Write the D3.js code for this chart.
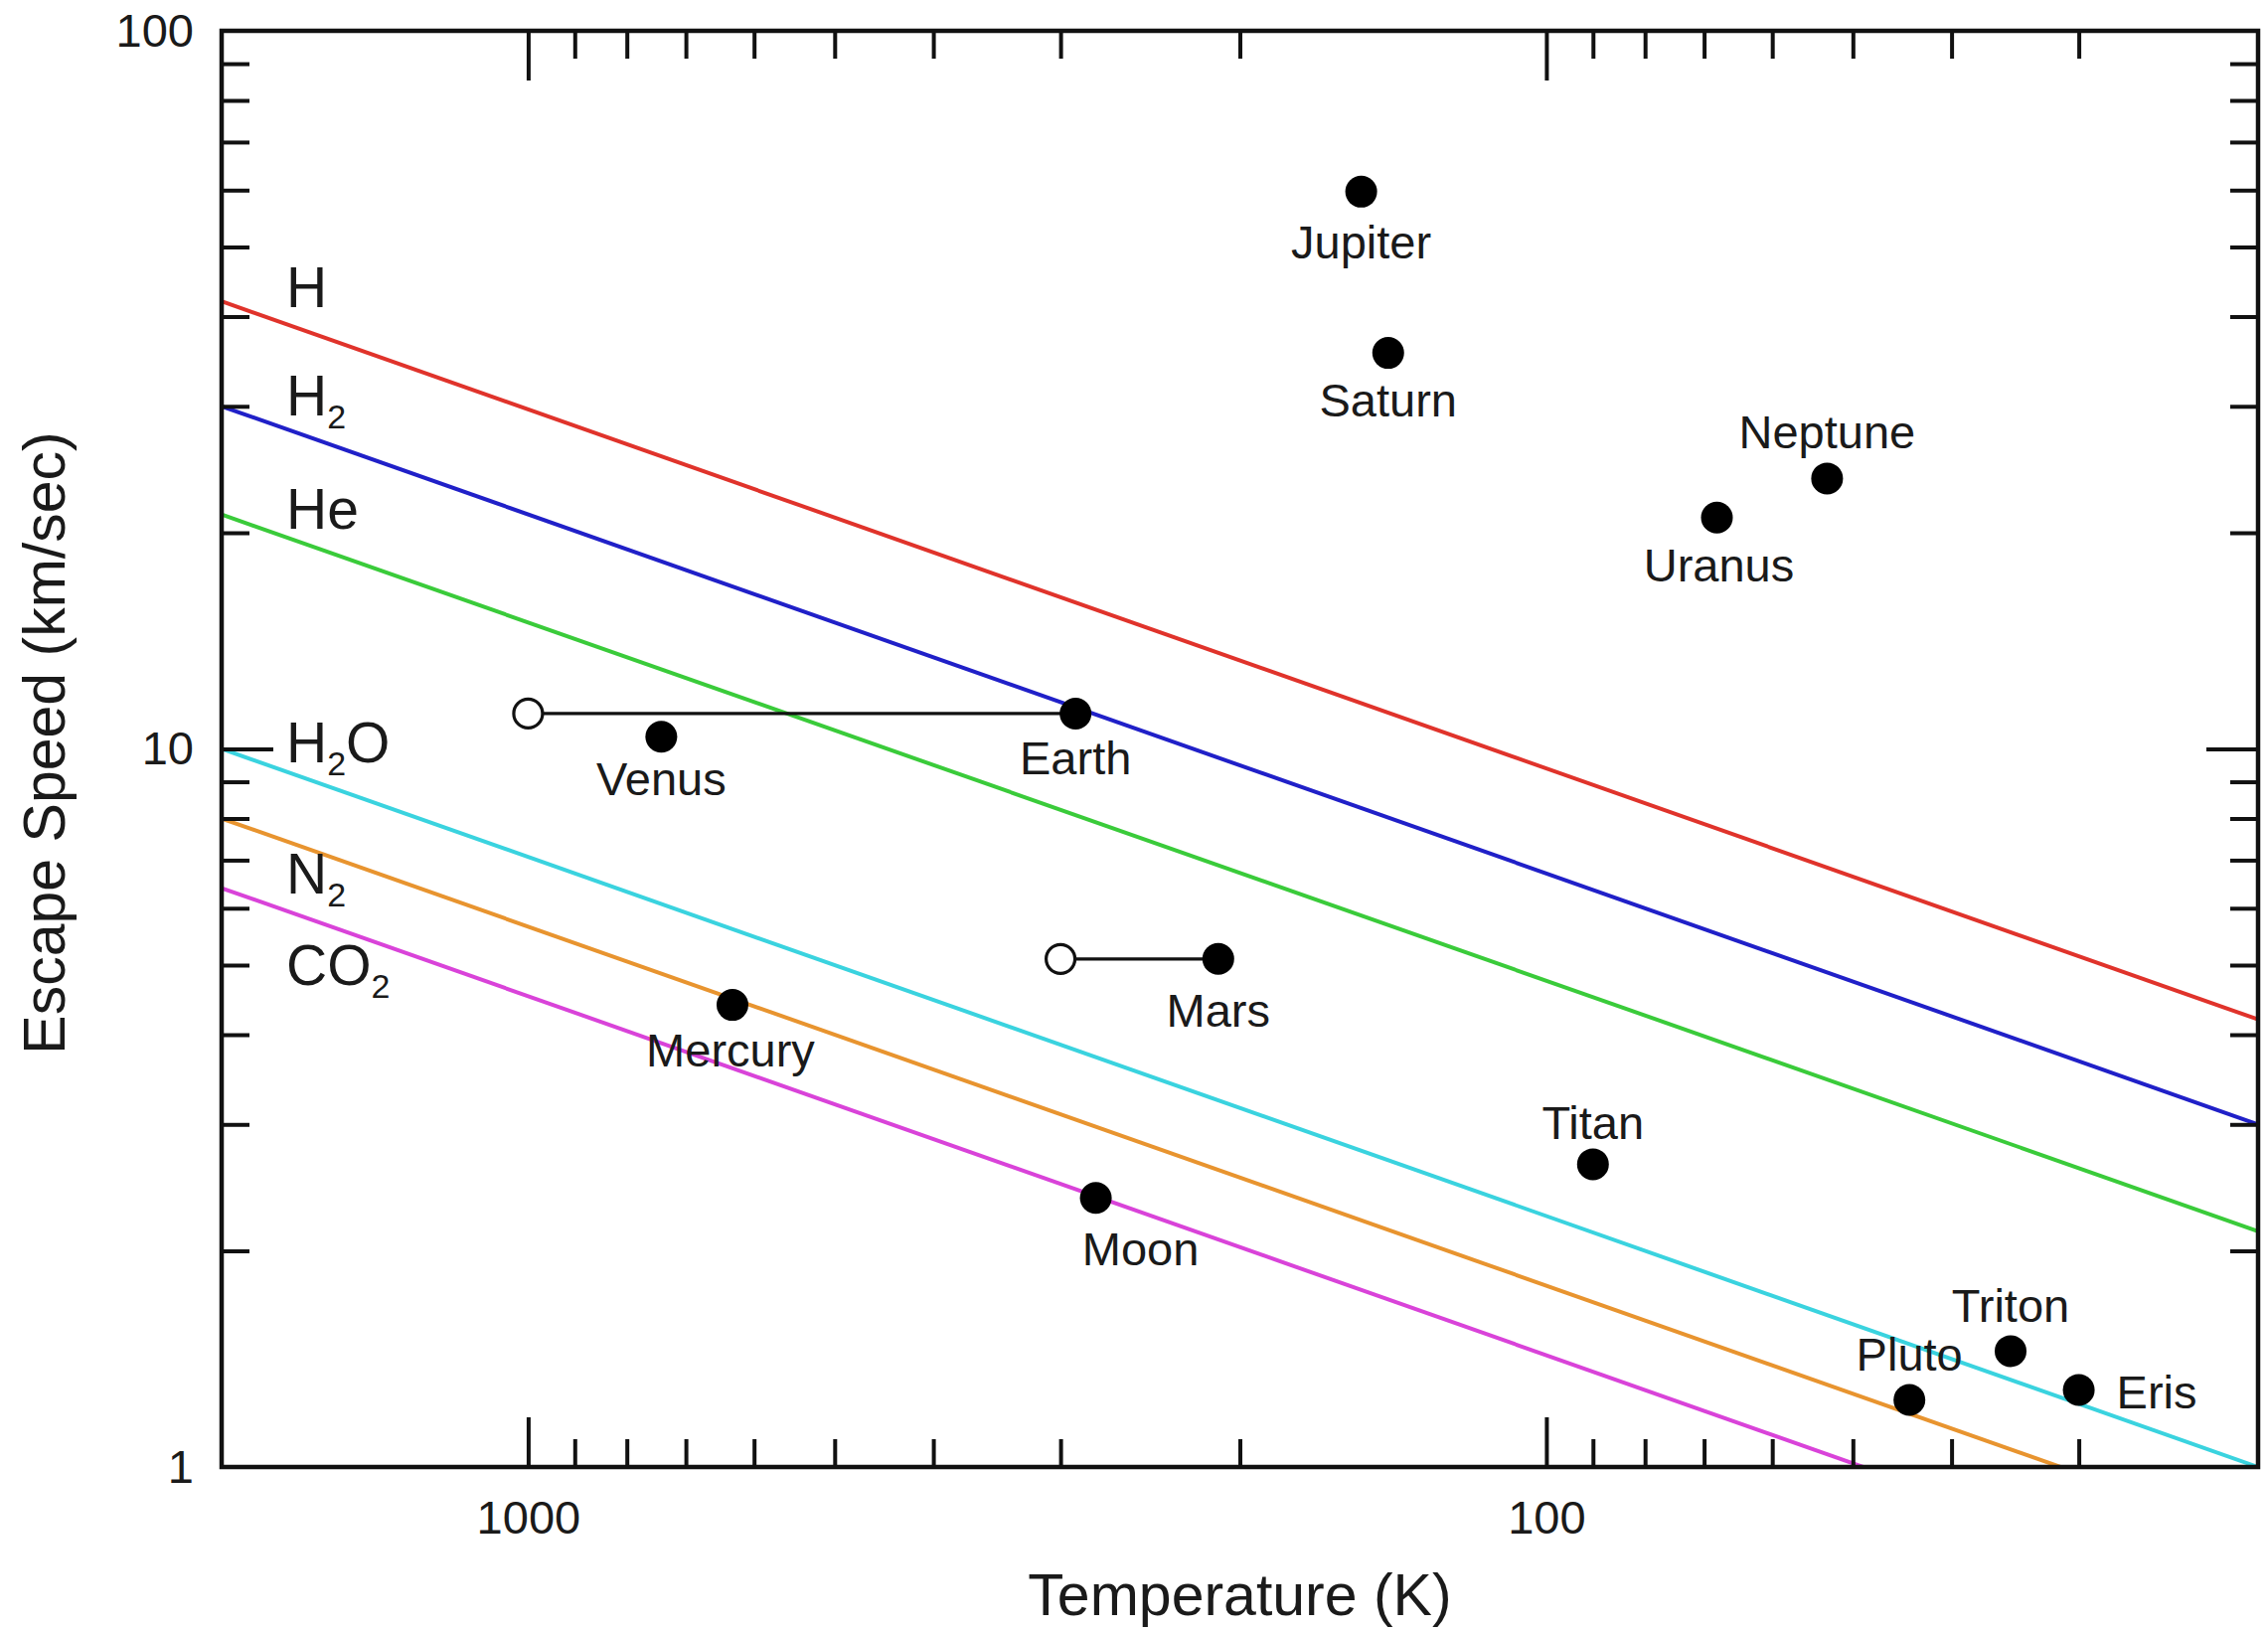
<!DOCTYPE html>
<html>
<head>
<meta charset="utf-8">
<script src="https://cdn.jsdelivr.net/npm/d3@7"></script>
<style>
  body { margin: 0; background: #fff; }
  text { font-family: "Liberation Sans", Arial, Helvetica, sans-serif; fill: #1a1a1a; }
</style>
</head>
<body>
<svg id="chart" width="2282" height="1641"></svg>
<script>
// gases: retention lines, values read at the two edges of the plot (T = 2000 K and T = 20 K)
const gases = ["H", "H2", "He", "H2O", "N2", "CO2"];
const gasColors = ["#e0332b", "#2020c8", "#3acb3a", "#3ad3df", "#e8942f", "#d943d9"];
const gasSpeedHot = [42, 30, 21.2, 10, 8.0, 6.4];     // km/s at 2000 K
const gasSpeedCold = [4.2, 3.0, 2.13, 1.0, 0.80, 0.64]; // km/s at 20 K
const edgeTemps = [2000, 20];

// bodies
const bodies = ["Jupiter", "Saturn", "Uranus", "Neptune", "Earth", "Venus", "Mars",
  "Mercury", "Moon", "Titan", "Pluto", "Triton", "Eris"];
const bodyTemp = [152, 143, 68, 53, 290, 740, 210, 630, 277, 90, 44, 35, 30];
const bodyEscape = [59.7, 35.6, 21.0, 23.8, 11.2, 10.4, 5.1, 4.4, 2.37, 2.64, 1.24, 1.45, 1.28];

// exosphere temperatures (open circles joined to the body)
const exoBodies = ["Earth", "Mars"];
const exoTemp = [1000, 300];

// ticks
const xMajor = [1000, 100];
const xMinor = [900, 800, 700, 600, 500, 400, 300, 200, 90, 80, 70, 60, 50, 40, 30];
const yMajor = [10];
const yLabels = [100, 10, 1];
const yMinor = [2, 3, 4, 5, 6, 7, 8, 9, 20, 30, 40, 50, 60, 70, 80, 90];

// layout only: label offsets in pixels from the dot
const labelOffset = {
  Jupiter: [0, 50], Saturn: [0, 47], Uranus: [2, 47], Neptune: [0, -47],
  Earth: [0, 44], Venus: [0, 42], Mars: [0, 51], Mercury: [-2, 45],
  Moon: [45, 51], Titan: [0, -42], Pluto: [0, -46], Triton: [0, -46], Eris: [38, 2]
};
// layout only: speed at which each gas label sits
const gasLabelAt = { H: 44, H2: 31, He: 21.6, H2O: 10.2, N2: 6.7, CO2: 5.0 };

const svg = d3.select("#chart");
const W = +svg.attr("width"), H = +svg.attr("height");
const margin = { left: 223, right: 10, top: 31, bottom: 165 };
const x0 = margin.left, x1 = W - margin.right, y0 = margin.top, y1 = H - margin.bottom;

const xScale = d3.scaleLog().domain([2000, 20]).range([x0, x1]);
const yScale = d3.scaleLog().domain([1, 100]).range([y1, y0]);

svg.append("defs").append("clipPath").attr("id", "plot-clip")
  .append("rect").attr("x", x0).attr("y", y0).attr("width", x1 - x0).attr("height", y1 - y0);

// gas lines
const line = d3.line().x(d => xScale(d[0])).y(d => yScale(d[1]));
const gasData = gases.map((g, i) => ({
  key: g, color: gasColors[i],
  pts: [[edgeTemps[0], gasSpeedHot[i]], [edgeTemps[1], gasSpeedCold[i]]]
}));

svg.append("g").attr("clip-path", "url(#plot-clip)")
  .selectAll("path").data(gasData).enter().append("path")
    .attr("d", d => line(d.pts))
    .attr("fill", "none")
    .attr("stroke", d => d.color)
    .attr("stroke-width", 4);

// axes
function styleAxis(g) {
  g.select(".domain").remove();
  g.selectAll(".tick line").attr("stroke", "#111").attr("stroke-width", 4);
  g.selectAll(".tick text").attr("font-size", 47).attr("fill", "#1a1a1a")
    .attr("font-family", "\"Liberation Sans\", Arial, sans-serif");
}

svg.append("g").attr("transform", `translate(0,${y1})`)
  .call(d3.axisBottom(xScale).tickValues(xMajor).tickSize(-50).tickPadding(34).tickFormat(d3.format("d")))
  .call(styleAxis);
svg.append("g").attr("transform", `translate(0,${y1})`)
  .call(d3.axisBottom(xScale).tickValues(xMinor).tickSize(-28).tickFormat(""))
  .call(styleAxis);
svg.append("g").attr("transform", `translate(0,${y0})`)
  .call(d3.axisTop(xScale).tickValues(xMajor).tickSize(-50).tickFormat(""))
  .call(styleAxis);
svg.append("g").attr("transform", `translate(0,${y0})`)
  .call(d3.axisTop(xScale).tickValues(xMinor).tickSize(-28).tickFormat(""))
  .call(styleAxis);

svg.append("g").attr("transform", `translate(${x0},0)`)
  .call(d3.axisLeft(yScale).tickValues(yMajor).tickSize(-52).tickFormat(""))
  .call(styleAxis);
svg.append("g").attr("transform", `translate(${x0},0)`)
  .call(d3.axisLeft(yScale).tickValues(yLabels).tickSize(0).tickPadding(28).tickFormat(d3.format("d")))
  .call(styleAxis);
svg.append("g").attr("transform", `translate(${x0},0)`)
  .call(d3.axisLeft(yScale).tickValues(yMinor).tickSize(-28).tickFormat(""))
  .call(styleAxis);
svg.append("g").attr("transform", `translate(${x1},0)`)
  .call(d3.axisRight(yScale).tickValues(yMajor).tickSize(-52).tickFormat(""))
  .call(styleAxis);
svg.append("g").attr("transform", `translate(${x1},0)`)
  .call(d3.axisRight(yScale).tickValues(yMinor).tickSize(-28).tickFormat(""))
  .call(styleAxis);

// frame
svg.append("rect")
  .attr("x", x0).attr("y", y0).attr("width", x1 - x0).attr("height", y1 - y0)
  .attr("fill", "none").attr("stroke", "#111").attr("stroke-width", 4.5);

// gas labels, digits drawn as subscripts
svg.append("g").selectAll("text").data(gases).enter().append("text")
  .attr("x", x0 + 65)
  .attr("y", d => yScale(gasLabelAt[d]) + 20)
  .attr("font-size", 57)
  .each(function (d) {
    const t = d3.select(this);
    let shift = 0;
    d.replace(/([A-Z][a-z]?)(\d*)/g, (all, sym, num) => {
      const s = t.append("tspan").text(sym);
      if (shift) s.attr("dy", -shift);
      shift = 0;
      if (num) {
        shift = 13;
        t.append("tspan").attr("font-size", 34).attr("dy", shift).text(num);
      }
      return all;
    });
  });

// exosphere connectors
const exo = exoBodies.map((b, i) => {
  const j = bodies.indexOf(b);
  return { name: b, tHot: exoTemp[i], t: bodyTemp[j], v: bodyEscape[j] };
});
svg.append("g").selectAll("line").data(exo).enter().append("line")
  .attr("x1", d => xScale(d.tHot)).attr("x2", d => xScale(d.t))
  .attr("y1", d => yScale(d.v)).attr("y2", d => yScale(d.v))
  .attr("stroke", "#111").attr("stroke-width", 3.2);
svg.append("g").selectAll("circle").data(exo).enter().append("circle")
  .attr("cx", d => xScale(d.tHot)).attr("cy", d => yScale(d.v))
  .attr("r", 14.5).attr("fill", "#fff").attr("stroke", "#111").attr("stroke-width", 3.2);

// bodies
const bodyData = bodies.map((b, i) => ({ name: b, t: bodyTemp[i], v: bodyEscape[i] }));
svg.append("g").selectAll("circle").data(bodyData).enter().append("circle")
  .attr("cx", d => xScale(d.t)).attr("cy", d => yScale(d.v))
  .attr("r", 16).attr("fill", "#000");

svg.append("g").selectAll("text").data(bodyData).enter().append("text")
  .attr("x", d => xScale(d.t) + labelOffset[d.name][0])
  .attr("y", d => yScale(d.v) + labelOffset[d.name][1])
  .attr("dy", "0.36em")
  .attr("text-anchor", d => d.name === "Eris" ? "start" : "middle")
  .attr("font-size", 47)
  .text(d => d.name);

// axis titles
svg.append("text")
  .attr("x", (x0 + x1) / 2).attr("y", 1625)
  .attr("text-anchor", "middle").attr("font-size", 59)
  .text("Temperature (K)");
svg.append("text")
  .attr("transform", `translate(65,${(y0 + y1) / 2 - 6}) rotate(-90)`)
  .attr("text-anchor", "middle").attr("font-size", 59)
  .text("Escape Speed (km/sec)");
</script>
</body>
</html>
